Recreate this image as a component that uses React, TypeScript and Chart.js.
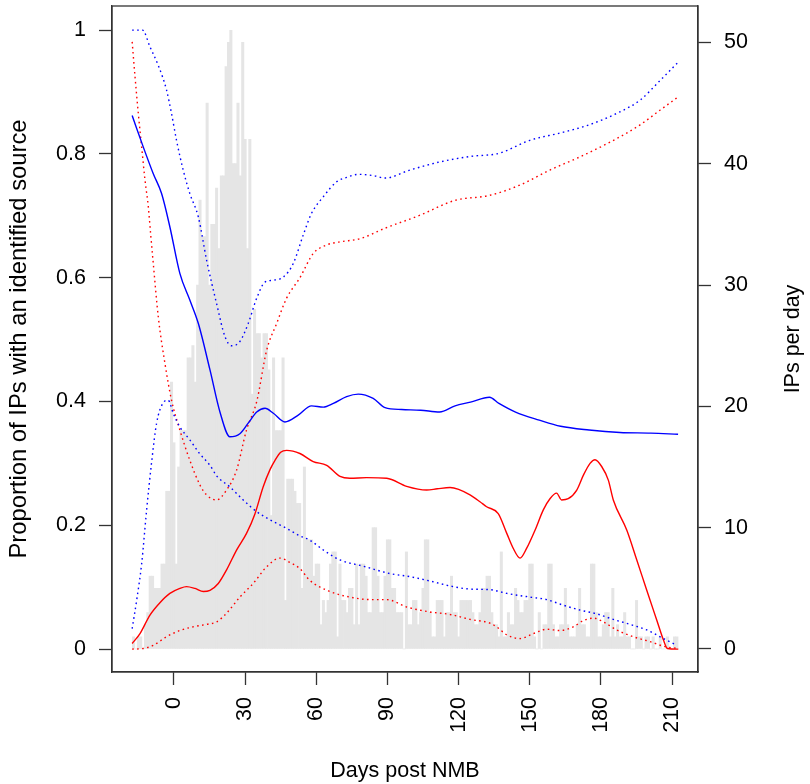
import { useEffect, useRef } from "react";
import { Chart, registerables } from "chart.js";

Chart.register(...registerables);

const FONT_FAMILY = "Arial, 'Liberation Sans', Helvetica, sans-serif";
const FONT_SIZE = 21.5;
const LEFT_TITLE_SIZE = 23.8;

// ---------- data ----------
const xTicks = [0, 30, 60, 90, 120, 150, 180, 210];
const leftTicks = [0, 0.2, 0.4, 0.6, 0.8, 1];
const rightTicks = [0, 10, 20, 30, 40, 50];

const firstDay = -17;
const ipsPerDay = [
  1, 0, 1, 1, 0, 2, 3, 6, 6, 5, 5, 5, 7, 7, 13, 13, 22,
  17, 7, 15, 18, 18, 18, 24, 24, 25, 22, 30, 37, 34, 34, 45, 30, 35, 35, 38, 33,
  39, 39, 48, 50, 51, 40, 40, 45, 39, 50, 42, 33, 42, 21, 28, 26, 26, 24, 26, 26,
  23, 11, 24, 18, 18, 18, 24, 4, 14, 14, 14, 13, 12, 12, 5, 15, 9, 9, 9, 6,
  7, 7, 2, 4, 3, 4, 7, 8, 8, 1, 7, 4, 4, 3, 5, 5, 2, 7, 2, 7,
  7, 6, 3, 3, 10, 10, 6, 3, 3, 6, 9, 9, 5, 5, 3, 3, 3, 0, 8, 2,
  2, 4, 4, 2, 3, 5, 9, 9, 3, 1, 1, 4, 4, 4, 1, 3, 3, 6, 3, 3,
  1, 4, 4, 4, 4, 4, 3, 2, 2, 3, 5, 5, 6, 6, 3, 2, 2, 1, 8, 1,
  1, 3, 2, 2, 5, 4, 3, 3, 4, 4, 7, 7, 1, 0, 3, 0, 2, 2, 7, 7,
  2, 1, 1, 2, 2, 5, 2, 1, 1, 1, 2, 5, 2, 2, 1, 1, 7, 7, 3, 1,
  1, 2, 3, 3, 1, 5, 1, 2, 1, 1, 3, 1, 1, 0, 0, 4, 1, 1, 0, 1,
  1, 0, 1, 0, 0, 1, 0, 0, 1, 0, 0, 1, 1,
];

// blue: estimate and confidence limits
const blueMidX = [-17.6, -12.9, -8.7, -5.2, -1.7, 2.5, 6.7, 10.3, 15.2, 19.4, 23.6, 27.8, 31.3, 34.9, 38.4, 41.9, 46.8, 52.4, 58, 63, 67.2, 72.8, 77.7, 84, 89, 96, 104, 112, 118.5, 125, 133, 137, 144, 154, 163, 175, 188, 201, 212.5];
const blueMidY = [0.862, 0.811, 0.768, 0.736, 0.682, 0.607, 0.564, 0.526, 0.451, 0.383, 0.343, 0.348, 0.365, 0.383, 0.389, 0.381, 0.367, 0.378, 0.393, 0.391, 0.397, 0.408, 0.412, 0.405, 0.39, 0.387, 0.386, 0.383, 0.393, 0.399, 0.407, 0.397, 0.383, 0.37, 0.36, 0.354, 0.35, 0.349, 0.347];

const blueHiX = [-17.6, -13.2, -10.1, -6.6, -3.1, -1, 1.1, 3.9, 6.7, 10.3, 13.8, 18, 21.5, 24.3, 27.8, 31.3, 34.9, 38.4, 41.9, 46.1, 50.3, 54.5, 58, 63, 68.6, 72.8, 77.7, 84, 89, 99.5, 112, 125, 137, 150, 163, 175, 188, 196.5, 205, 212.5];
const blueHiY = [1.0, 1.0, 0.973, 0.943, 0.903, 0.865, 0.822, 0.774, 0.736, 0.698, 0.628, 0.558, 0.505, 0.49, 0.497, 0.526, 0.567, 0.593, 0.596, 0.601, 0.623, 0.669, 0.704, 0.731, 0.755, 0.762, 0.767, 0.765, 0.761, 0.774, 0.787, 0.796, 0.801, 0.822, 0.834, 0.847, 0.868, 0.887, 0.919, 0.948];

const blueLoX = [-17.6, -15.7, -13.6, -11.5, -9.4, -7.3, -4.5, -2.4, -0.3, 2.5, 6.7, 11, 15.2, 18, 23.6, 29.2, 34.9, 41.9, 47.5, 53.1, 57.3, 63, 70, 79.8, 91.1, 99.5, 107.9, 116.4, 124.8, 133.2, 140.3, 150.1, 157.1, 164.1, 171.2, 178.2, 185.2, 192.2, 199.3, 206.3, 212];
const blueLoY = [0.033, 0.079, 0.138, 0.225, 0.302, 0.365, 0.398, 0.402, 0.381, 0.359, 0.338, 0.315, 0.297, 0.28, 0.262, 0.241, 0.222, 0.206, 0.195, 0.183, 0.176, 0.16, 0.144, 0.134, 0.122, 0.117, 0.11, 0.102, 0.097, 0.096, 0.09, 0.084, 0.08, 0.071, 0.063, 0.057, 0.048, 0.04, 0.031, 0.017, 0.006];

// red: estimate and confidence limits
const redMidX = [-17.6, -14.3, -10.1, -5.9, -1.7, 2.5, 5.3, 8.9, 12.4, 15.2, 18.7, 22.2, 26.4, 30.6, 34.1, 37.6, 40.5, 42.6, 45, 47.5, 53.1, 58.7, 64.4, 70, 74.2, 81.2, 89.7, 98.1, 106.5, 111, 116.4, 120, 124.8, 129, 131.8, 136.7, 140.3, 143, 145.9, 148.7, 152.2, 155.7, 158.5, 161.3, 163.4, 166.2, 169.8, 172.6, 175.4, 177.5, 180.3, 183.1, 185.2, 190.9, 195.1, 199.3, 203.5, 206.3, 208, 212.6];
const redMidY = [0.009, 0.025, 0.055, 0.075, 0.09, 0.098, 0.101, 0.098, 0.093, 0.095, 0.106, 0.128, 0.16, 0.187, 0.218, 0.262, 0.29, 0.305, 0.318, 0.321, 0.316, 0.303, 0.297, 0.279, 0.276, 0.277, 0.276, 0.263, 0.257, 0.259, 0.261, 0.258, 0.249, 0.238, 0.23, 0.219, 0.187, 0.163, 0.147, 0.163, 0.192, 0.225, 0.243, 0.252, 0.241, 0.243, 0.257, 0.281, 0.3, 0.306, 0.295, 0.273, 0.241, 0.192, 0.144, 0.095, 0.047, 0.015, 0.001, 0];

const redHiX = [-17.6, -16.4, -15, -13.6, -12.2, -10.8, -9.8, -8.7, -6.6, -3.8, -1, 2.5, 6.7, 11, 13.8, 18, 22.2, 26.4, 30.6, 34.9, 39.1, 43.3, 47.5, 53.1, 58.7, 64.4, 70, 78.4, 89, 103.7, 118.5, 133, 146, 158.5, 171, 183.8, 196.5, 205, 212.5];
const redHiY = [0.981, 0.925, 0.865, 0.811, 0.758, 0.715, 0.67, 0.623, 0.537, 0.462, 0.402, 0.354, 0.305, 0.265, 0.249, 0.241, 0.257, 0.289, 0.354, 0.4, 0.483, 0.526, 0.567, 0.6, 0.639, 0.653, 0.658, 0.663, 0.68, 0.701, 0.725, 0.733, 0.75, 0.774, 0.795, 0.819, 0.847, 0.871, 0.892];

const redLoX = [-17.6, -12.9, -8.7, -3.1, 2.5, 8.1, 13.8, 18, 22.2, 27.8, 33.4, 39.1, 44.7, 48.9, 53.1, 57.3, 65.8, 74.2, 82.6, 89.7, 98.1, 107.9, 116.4, 124.8, 133.2, 136, 140.3, 145.9, 151.5, 157.1, 162.7, 168.3, 172.6, 176.8, 181, 186.6, 193.6, 200.7, 207, 212.6];
const redLoY = [0, 0.001, 0.006, 0.02, 0.03, 0.036, 0.04, 0.044, 0.058, 0.084, 0.106, 0.133, 0.147, 0.14, 0.13, 0.111, 0.093, 0.084, 0.08, 0.08, 0.068, 0.06, 0.056, 0.048, 0.042, 0.036, 0.023, 0.017, 0.025, 0.032, 0.03, 0.036, 0.046, 0.05, 0.044, 0.031, 0.02, 0.012, 0.004, 0.001];

const xTitle = "Days post NMB";
const leftTitle = "Proportion of IPs with an identified source";
const rightTitle = "IPs per day";

// ---------- helpers ----------
const zip = (xs: number[], ys: number[]) => xs.map((x, i) => ({ x, y: ys[i] }));

const AXIS_COLOR = "#333333";
const TICK_LEN = 13;
const font = { family: FONT_FAMILY, size: FONT_SIZE };

const lineDs = (label: string, xs: number[], ys: number[], color: string, dotted: boolean) => ({
  type: "line" as const,
  label,
  data: zip(xs, ys),
  xAxisID: "x",
  yAxisID: "y",
  borderColor: color,
  backgroundColor: color,
  borderWidth: 1.4,
  borderDash: dotted ? [1.6, 3.4] : [],
  pointRadius: 0,
  cubicInterpolationMode: "monotone" as const,
  fill: false,
  order: 0,
});

const fixScale = (size: number) => (scale: any) => {
  if (scale.isHorizontal()) scale.height = size;
  else scale.width = size;
  scale.paddingTop = 0;
  scale.paddingBottom = 0;
  scale.paddingLeft = 0;
  scale.paddingRight = 0;
};

const setTicks = (vals: number[]) => (scale: any) => {
  scale.ticks = vals.map((value) => ({ value }));
};

const boxPlugin = {
  id: "rbox",
  afterDraw(chart: any) {
    const { ctx, chartArea } = chart;
    ctx.save();
    ctx.strokeStyle = AXIS_COLOR;
    ctx.lineWidth = 1.3;
    ctx.strokeRect(chartArea.left, chartArea.top, chartArea.right - chartArea.left, chartArea.bottom - chartArea.top);
    // right-side axis title, reading bottom-to-top as in R
    const cy = (chartArea.top + chartArea.bottom) / 2;
    const cx = chartArea.right + 95;
    ctx.translate(cx, cy);
    ctx.rotate(-Math.PI / 2);
    ctx.fillStyle = "#000";
    ctx.font = `${FONT_SIZE}px ${FONT_FAMILY}`;
    ctx.textAlign = "center";
    ctx.textBaseline = "middle";
    ctx.fillText(rightTitle, 0, 0);
    ctx.restore();
  },
};

export default function App() {
  const ref = useRef<HTMLCanvasElement>(null);

  useEffect(() => {
    const canvas = ref.current;
    if (!canvas) return;
    const chart = new Chart(canvas, {
      data: {
        datasets: [
          lineDs("blue estimate", blueMidX, blueMidY, "#0000FF", false),
          lineDs("blue upper", blueHiX, blueHiY, "#0000FF", true),
          lineDs("blue lower", blueLoX, blueLoY, "#0000FF", true),
          lineDs("red estimate", redMidX, redMidY, "#FF0000", false),
          lineDs("red upper", redHiX, redHiY, "#FF0000", true),
          lineDs("red lower", redLoX, redLoY, "#FF0000", true),
          {
            type: "bar" as const,
            label: "IPs per day",
            data: ipsPerDay.map((v, i) => ({ x: firstDay + i, y: v })),
            xAxisID: "x",
            yAxisID: "y2",
            backgroundColor: "#E5E5E5",
            borderWidth: 0,
            barPercentage: 1,
            categoryPercentage: 1,
            order: 10,
          },
        ],
      } as any,
      options: {
        responsive: false,
        animation: false,
        events: [],
        layout: { padding: { top: 6, left: 0, right: 0, bottom: 0 } },
        plugins: {
          legend: { display: false },
          tooltip: { enabled: false },
          title: { display: false },
        },
        scales: {
          x: {
            type: "linear",
            position: "bottom",
            offset: false,
            min: -26.1,
            max: 220.9,
            afterBuildTicks: setTicks(xTicks),
            afterFit: fixScale(112),
            grid: {
              offset: false,
              drawOnChartArea: false,
              drawTicks: true,
              tickLength: TICK_LEN,
              tickColor: AXIS_COLOR,
              tickWidth: 1.3,
            },
            border: { display: true, color: AXIS_COLOR, width: 1.3 },
            ticks: {
              font,
              color: "#000",
              minRotation: 90,
              maxRotation: 90,
              padding: 12,
              autoSkip: false,
              callback: (v: any) => String(v),
            },
            title: {
              display: true,
              text: xTitle,
              font,
              color: "#000",
              padding: { top: 0, bottom: 0 },
            },
          },
          y: {
            type: "linear",
            position: "left",
            min: -0.037,
            max: 1.039,
            afterBuildTicks: setTicks(leftTicks),
            afterFit: fixScale(112),
            grid: {
              drawOnChartArea: false,
              drawTicks: true,
              tickLength: TICK_LEN,
              tickColor: AXIS_COLOR,
              tickWidth: 1.3,
            },
            border: { display: true, color: AXIS_COLOR, width: 1.3 },
            ticks: {
              font,
              color: "#000",
              padding: 13,
              autoSkip: false,
              callback: (v: any) => String(+Number(v).toFixed(1)),
            },
            title: {
              display: true,
              text: leftTitle,
              font: { family: FONT_FAMILY, size: LEFT_TITLE_SIZE },
              color: "#000",
              padding: { top: 5, bottom: 0 },
            },
          },
          y2: {
            type: "linear",
            position: "right",
            min: -1.9,
            max: 53.0,
            afterBuildTicks: setTicks(rightTicks),
            afterFit: fixScale(112),
            grid: {
              drawOnChartArea: false,
              drawTicks: true,
              tickLength: TICK_LEN,
              tickColor: AXIS_COLOR,
              tickWidth: 1.3,
            },
            border: { display: true, color: AXIS_COLOR, width: 1.3 },
            ticks: {
              font,
              color: "#000",
              padding: 13,
              autoSkip: false,
              callback: (v: any) => String(v),
            },
          },
        },
      } as any,
      plugins: [boxPlugin],
    });
    return () => chart.destroy();
  }, []);

  return (
    <div style={{ position: "absolute", left: 0, top: 0, width: 810, height: 784, background: "#fff" }}>
      <canvas ref={ref} width={810} height={784} style={{ display: "block", width: 810, height: 784 }} />
    </div>
  );
}
